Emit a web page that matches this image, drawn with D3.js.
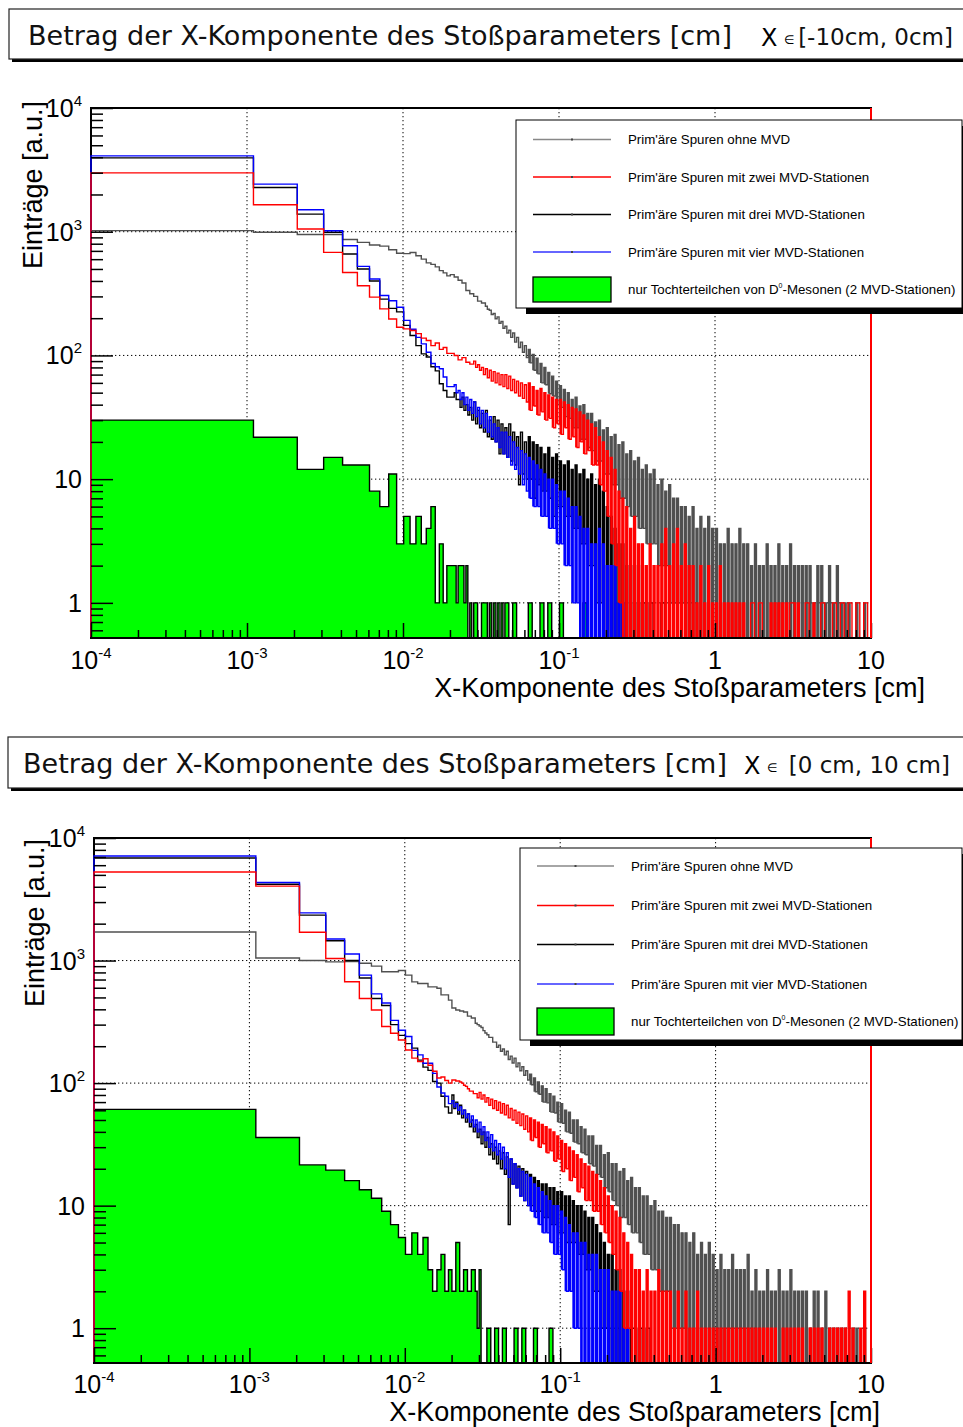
<!DOCTYPE html>
<html>
<head>
<meta charset="utf-8">
<title>Stoßparameter</title>
<script src="https://cdn.jsdelivr.net/npm/d3@7/dist/d3.min.js"></script>
<style>
  body { margin: 0; background: #fff; }
  svg { display: block; }
  text { font-family: "Liberation Sans", Arial, sans-serif; fill: #000; }
</style>
</head>
<body>
<div id="svg"></div>
<script>
var width = 963;
var height = 1427;

// echte Bins (0.001 cm breit) bis 0.0201 cm, danach zusammengefasste Bins
var binKanten = [0.0001, 0.0011, 0.0021, 0.0031, 0.0041, 0.0051, 0.0061, 0.0071, 0.0081, 0.0091, 0.0101,
  0.0111, 0.0121, 0.0131, 0.0141, 0.0151, 0.0161, 0.0171, 0.0181, 0.0191, 0.0201];
var grobStart = 0.0201;
var grobProDekade = 40;
var grobAnzahl = 108;
var grobDicht = 20;   // ab hier liegen die echten Bins unter einem Pixel

var xTicks = [1e-4, 1e-3, 1e-2, 1e-1, 1, 10];
var xTickLabels = [["10", "-4"], ["10", "-3"], ["10", "-2"], ["10", "-1"], ["1", ""], ["10", ""]];
var yTicks = [1, 10, 100, 1000, 10000];
var yTickLabels = [["1", ""], ["10", ""], ["10", "2"], ["10", "3"], ["10", "4"]];

var legendTexte = ["Prim'äre Spuren ohne MVD", "Prim'äre Spuren mit zwei MVD-Stationen",
  "Prim'äre Spuren mit drei MVD-Stationen", "Prim'äre Spuren mit vier MVD-Stationen"];
var legendFarben = ["#888888", "#ff0000", "#000000", "#3333ff"];

// ---------- oberes Bild: X in [-10cm, 0cm] ----------
// n = echte Bins, Ob/Un = obere/untere Kante der Schwankung je Grob-Bin
var oben_grauN = [1020, 990, 950, 950, 866, 820, 780, 765, 715, 670, 665, 680, 640, 600, 560, 545, 520, 485, 465, 440];
var oben_grauOb = [450, 430, 405, 385, 335, 315, 300, 275, 265, 250,
  232, 218, 205, 188, 172, 160, 152, 140, 128, 120,
  112, 102, 95, 86, 80, 73, 68, 62, 57, 53,
  50, 44, 46, 39, 40, 34, 34, 29, 30, 25,
  26, 22, 23, 19, 20, 16, 17, 14, 15, 12,
  13, 11, 12, 9, 10, 8, 9, 7, 7, 6,
  6, 5, 6, 4, 5, 4, 5, 4, 4, 3,
  3, 4, 3, 3, 4, 3, 3, 2, 3, 2,
  2, 3, 2, 2, 3, 2, 2, 3, 2, 2,
  2, 2, 2, 1, 2, 2, 1, 2, 1, 2,
  1, 1, 1, 0, 1, 0, 1, 0];
var oben_grauUn = [450, 430, 405, 385, 335, 315, 300, 275, 265, 236,
  214, 198, 182, 166, 152, 140, 128, 116, 106, 96,
  87, 76, 71, 60, 58, 49, 47, 40, 38, 32,
  31, 26, 26, 21, 21, 18, 17, 14, 14, 11,
  11, 9, 9, 7, 7, 6, 5, 5, 4, 4,
  3, 3, 3, 2, 2, 2, 1, 1, 1, 1];

var oben_rotN = [2990, 1650, 1052, 681, 468, 366, 296, 238, 197, 169, 164, 159, 150, 138, 132, 120, 126, 112, 116, 104];
var oben_rotOb = [104, 100, 92, 96, 88, 85, 90, 84, 80, 78,
  76, 74, 72, 70, 70, 68, 64, 62, 60, 58,
  60, 56, 52, 54, 50, 48, 46, 44, 44, 42,
  40, 38, 37, 35, 33, 30, 28, 26, 22, 20,
  17, 15, 12, 8, 7, 6, 4, 5, 3, 3,
  2, 3, 2, 2, 3, 4, 2, 3, 4, 2,
  3, 2, 2, 1, 2, 1, 2, 1, 1, 2,
  1, 1, 1, 1, 1, 1, 0, 1, 0, 1,
  0, 0, 1, 1, 1, 1, 1, 1, 1, 1,
  0, 1, 0, 1, 0, 1, 0, 0, 1, 0,
  1, 0, 1, 0, 1, 0, 1, 0];
var oben_rotUn = [104, 100, 92, 96, 88, 85, 80, 76, 70, 66,
  62, 60, 58, 56, 54, 52, 50, 47, 45, 42,
  36, 39, 33, 35, 30, 31, 26, 28, 23, 26,
  21, 22, 18, 20, 16, 17, 13, 13, 9, 8,
  5, 3, 2, 1, 0, 0, 0, 0, 0, 0,
  0, 0, 0, 0, 0, 0, 0, 0, 0, 0,
  0, 0, 0, 0, 0, 0, 0, 0, 0, 0,
  0, 0, 0, 0, 0, 0, 0, 1, 0, 1,
  0, 0, 0, 0, 0, 0, 0, 1, 0, 0,
  0, 1, 0, 0, 0, 1, 0, 0, 1, 0,
  1, 0, 1, 0, 1, 0, 1, 0];

var oben_schwarzN = [3950, 2278, 1388, 990, 660, 500, 400, 285, 240, 225, 175, 145, 120, 103, 97, 81, 75, 59, 52, 46];
var oben_schwarzOb = [46, 50, 44, 46, 40, 38, 42, 36, 34, 36,
  30, 32, 30, 28, 26, 28, 24, 22, 24, 20,
  22, 20, 19, 18, 16, 18, 15, 16, 14, 13,
  14, 12, 13, 11, 12, 10, 11, 9, 10, 8,
  6, 5, 4, 3, 3, 2, 2, 1, 2, 1,
  0, 1, 0, 0, 1];
var oben_schwarzUn = [46, 44, 38, 36, 33, 30, 28, 26, 24, 22,
  21, 20, 16, 16, 15, 14, 13, 9, 11, 10,
  10, 7, 9, 8, 8, 7, 5, 6, 6, 5,
  5, 4, 4, 3, 3, 2, 2, 1, 1, 0,
  0, 0, 0, 0, 0, 0, 0, 0, 0, 1,
  0, 1, 0, 0, 1];

var oben_blauN = [4100, 2425, 1505, 1018, 770, 525, 415, 305, 277, 245, 192, 163, 140, 124, 106, 86, 81, 78, 67, 56];
var oben_blauOb = [56, 58, 52, 50, 46, 44, 42, 38, 36, 34,
  32, 28, 26, 24, 24, 22, 20, 18, 17, 16,
  15, 14, 13, 12, 11, 10, 10, 9, 8, 8,
  7, 6, 6, 5, 4, 4, 3, 3, 4, 3,
  2, 2, 2, 1, 1];
var oben_blauUn = [56, 50, 44, 40, 36, 34, 32, 28, 26, 24,
  22, 20, 18, 16, 15, 13, 12, 11, 9, 8,
  7, 6, 6, 5, 5, 4, 4, 3, 3, 2,
  2, 1, 1];

var oben_gruenN = [30, 21.8, 12, 15, 13, 13, 8, 6, 11, 3, 5, 3, 5, 3, 4, 6, 1, 3, 1, 2];
var oben_gruenOb = [2, 2, 2, 2, 2, 1, 1, 0, 1, 1, 1, 1, 1, 1, 1, 0, 1, 0, 0, 0, 1, 0, 0, 1, 0, 1, 0, 0, 1, 0, 0, 0, 0, 0, 1];
var oben_gruenUn = [2, 1, 2, 1, 0, 0, 1, 0, 1, 0, 0, 0, 0, 0, 1, 0, 1, 0, 0, 0, 1, 0, 0, 1, 0, 1, 0, 0, 1, 0, 0, 0, 0, 0, 1];

// ---------- unteres Bild: X in [0 cm, 10 cm] ----------
var unten_grauN = [1710, 1050, 1000, 975, 980, 950, 900, 810, 810, 830, 760, 670, 650, 650, 610, 610, 595, 525, 525, 475];
var unten_grauOb = [410, 395, 388, 380, 352, 340, 308, 292, 268, 248,
  236, 216, 204, 190, 182, 166, 160, 146, 136, 126,
  118, 110, 102, 95, 90, 82, 78, 70, 68, 60,
  58, 50, 50, 44, 42, 37, 37, 31, 31, 26,
  27, 22, 22, 19, 20, 16, 17, 14, 14, 12,
  12, 10, 11, 9, 9, 8, 8, 7, 7, 6,
  6, 5, 6, 4, 5, 4, 5, 4, 3, 4,
  3, 3, 4, 3, 3, 3, 4, 2, 3, 2,
  2, 3, 2, 2, 3, 2, 2, 3, 2, 2,
  2, 2, 1, 2, 2, 1, 2, 1, 1, 1,
  1, 1, 0, 1, 1, 0, 1, 0];
var unten_grauUn = [410, 395, 388, 380, 352, 340, 300, 284, 256, 236,
  216, 196, 182, 170, 156, 146, 136, 126, 116, 106,
  97, 85, 81, 70, 69, 58, 57, 48, 47, 40,
  39, 33, 32, 27, 26, 22, 21, 18, 17, 14,
  13, 11, 10, 8, 8, 7, 6, 6, 5, 4,
  4, 3, 3, 2, 2, 2, 1, 1, 1, 1];

var unten_rotN = [5280, 4050, 1700, 1040, 672, 490, 395, 290, 255, 225, 186, 160, 150, 158, 140, 125, 110, 112, 105, 100];
var unten_rotOb = [106, 104, 102, 96, 90, 86, 82, 84, 80, 76,
  74, 72, 70, 68, 66, 62, 60, 58, 56, 54,
  52, 50, 48, 46, 44, 42, 40, 37, 34, 32,
  30, 28, 26, 24, 22, 21, 19, 18, 16, 14,
  12, 10, 9, 8, 6, 5, 4, 3, 3, 2,
  3, 2, 2, 3, 2, 2, 2, 1, 2, 1,
  2, 1, 1, 2, 1, 1, 1, 1, 1, 1,
  1, 1, 1, 1, 1, 1, 1, 1, 1, 1,
  1, 1, 1, 1, 0, 1, 1, 1, 1, 1,
  1, 0, 1, 1, 1, 1, 0, 1, 1, 1,
  1, 1, 2, 1, 0, 1, 2, 0];
var unten_rotUn = [106, 104, 100, 94, 86, 82, 76, 74, 70, 66,
  62, 60, 57, 55, 52, 50, 47, 45, 42, 40,
  34, 36, 30, 32, 27, 28, 23, 24, 19, 20,
  16, 17, 13, 14, 11, 11, 9, 9, 7, 6,
  5, 4, 3, 2, 1, 1];

var unten_schwarzN = [6870, 4190, 2350, 1450, 1000, 720, 490, 430, 300, 245, 210, 193, 154, 135, 127, 103, 100, 78, 64, 57];
var unten_schwarzOb = [80, 70, 66, 60, 56, 50, 46, 42, 40, 36,
  32, 30, 28, 27, 25, 24, 22, 21, 20, 19,
  18, 17, 16, 15, 15, 14, 14, 13, 13, 12,
  12, 11, 10, 10, 9, 8, 8, 7, 6, 5,
  4, 4, 3, 3, 2, 2, 1, 1, 1, 0, 1];
var unten_schwarzUn = [62, 56, 52, 48, 44, 40, 36, 32, 30, 26,
  24, 22, 20, 18, 7, 15, 14, 12, 11, 10,
  10, 9, 9, 8, 8, 7, 7, 6, 6, 5,
  5, 5, 4, 4, 3, 3, 2, 2, 1, 1,
  0, 0, 0, 0, 0, 0, 1, 0, 1, 0, 1];

var unten_blauN = [7130, 4340, 2450, 1500, 1130, 760, 535, 450, 325, 270, 240, 185, 170, 145, 145, 120, 93, 83, 78, 68];
var unten_blauOb = [72, 68, 64, 60, 56, 54, 50, 48, 44, 40,
  38, 34, 32, 30, 27, 24, 22, 20, 19, 18,
  17, 15, 14, 13, 12, 11, 10, 10, 9, 8,
  7, 6, 6, 5, 5, 4, 4, 4, 3, 3,
  3, 2, 2, 2, 1, 1];
var unten_blauUn = [64, 60, 56, 52, 48, 44, 40, 38, 34, 30,
  28, 26, 24, 20, 17, 15, 14, 12, 11, 10,
  9, 8, 7, 6, 6, 5, 4, 4, 3, 2,
  2, 1, 1];

var unten_gruenN = [61, 36, 21.5, 19.5, 16, 13.5, 11.5, 9, 7, 5.5, 4, 6, 4, 5.5, 3, 2, 3, 4, 2, 3];
var unten_gruenOb = [2, 5, 2, 3, 2, 3, 2, 3, 0, 1, 0, 1, 0, 1, 0, 0, 1, 0, 1, 0, 0, 1, 0, 0, 0, 1];
var unten_gruenUn = [2, 5, 2, 3, 2, 3, 1, 0, 0, 1, 0, 1, 0, 1, 0, 0, 1, 0, 1, 0, 0, 1, 0, 0, 0, 1];

var grobKanten = d3.range(grobAnzahl + 1).map(function(k) { return grobStart * Math.pow(10, k / grobProDekade); });

function baueBins(n, ob, un)
{
  var bins = [];
  n.forEach(function(v, i) { bins.push({x0: binKanten[i], x1: binKanten[i + 1], ob: v, un: v, dicht: false}); });
  ob.forEach(function(v, k) {
    bins.push({x0: grobKanten[k], x1: grobKanten[k + 1], ob: v, un: un[k] === undefined ? 0 : un[k], dicht: k >= grobDicht});
  });
  return bins;
}

// Stufenlinie: pro Grob-Bin erst obere, dann untere Kante; lo = Unterkante der Füllung
function punkte(bins)
{
  var pts = [{x: bins[0].x0, v: 0, lo: 0}];
  bins.forEach(function(b) {
    pts.push({x: b.x0, v: b.ob, lo: b.dicht ? b.un : b.ob});
    if (b.un !== b.ob) pts.push({x: Math.sqrt(b.x0 * b.x1), v: b.un, lo: b.un});
  });
  pts.push({x: bins[bins.length - 1].x1, v: 0, lo: 0});
  return pts;
}

var panels = [
  {
    id: "oben", L: 91, R: 871, T: 108, B: 638,
    titel: {x: 9, y: 9, h: 50, base: 45, tx: 28, xx: 761, ex: 784, bx: 953, bereich: "[-10cm, 0cm]"},
    xLabelY: 669, xTitel: {x: 925, y: 697}, yTitel: {x: 42, y: 101},
    legende: {x: 516, y: 120, w: 447, h: 188, zeilen: [139.5, 177, 214.5, 252], box: [277, 25], lx: [533, 611], tx: 628},
    reihen: [
      {n: oben_grauN, ob: oben_grauOb, un: oben_grauUn, farbe: "#505050"},
      {n: oben_schwarzN, ob: oben_schwarzOb, un: oben_schwarzUn, farbe: "#000000"},
      {n: oben_blauN, ob: oben_blauOb, un: oben_blauUn, farbe: "#0000ff"},
      {n: oben_rotN, ob: oben_rotOb, un: oben_rotUn, farbe: "#ff0000"}
    ],
    gruen: {n: oben_gruenN, ob: oben_gruenOb, un: oben_gruenUn}
  },
  {
    id: "unten", L: 94, R: 871, T: 838, B: 1363,
    titel: {x: 8, y: 737, h: 51, base: 773, tx: 23, xx: 744, ex: 767, bx: 950, bereich: "[0 cm, 10 cm]"},
    xLabelY: 1393, xTitel: {x: 880, y: 1421}, yTitel: {x: 44, y: 839},
    legende: {x: 520, y: 848, w: 443, h: 192, zeilen: [866, 905.5, 944.5, 984], box: [1008, 27], lx: [537, 614], tx: 631},
    reihen: [
      {n: unten_grauN, ob: unten_grauOb, un: unten_grauUn, farbe: "#505050"},
      {n: unten_schwarzN, ob: unten_schwarzOb, un: unten_schwarzUn, farbe: "#000000"},
      {n: unten_blauN, ob: unten_blauOb, un: unten_blauUn, farbe: "#0000ff"},
      {n: unten_rotN, ob: unten_rotOb, un: unten_rotUn, farbe: "#ff0000"}
    ],
    gruen: {n: unten_gruenN, ob: unten_gruenOb, un: unten_gruenUn}
  }
];

var svg = d3.select("#svg").append("svg")
  .attr("width", width)
  .attr("height", height);

panels.forEach(function(p) { zeichnePanel(p); });

function zeichnePanel(p)
{
  var x = d3.scaleLog().domain([1e-4, 10]).range([p.L, p.R]);
  var y = d3.scaleLog().domain([0.52, 1e4]).range([p.B, p.T]);
  function yv(v) { return v > 0 ? y(v) : p.B + 4; }

  // Titelbox
  var t = p.titel;
  svg.append("rect").attr("x", t.x + 3).attr("y", t.y + 3).attr("width", 1000).attr("height", t.h).attr("fill", "#000");
  svg.append("rect").attr("x", t.x).attr("y", t.y).attr("width", 1000).attr("height", t.h)
    .attr("fill", "#fff").attr("stroke", "#222").attr("stroke-width", 1.2);
  svg.append("text").attr("x", t.tx).attr("y", t.base)
    .style("font-family", "DejaVu Sans").style("font-size", "27px").style("fill", "#111")
    .text("Betrag der X-Komponente des Stoßparameters [cm]");
  svg.append("text").attr("x", t.xx).attr("y", t.base + 1)
    .style("font-family", "DejaVu Sans").style("font-size", "24px").text("X");
  svg.append("text").attr("x", t.ex).attr("y", t.base - 1)
    .style("font-family", "DejaVu Sans").style("font-size", "12px").text("∈");
  svg.append("text").attr("x", t.bx).attr("y", t.base).attr("text-anchor", "end")
    .style("font-family", "DejaVu Sans").style("font-size", "23px").style("fill", "#111").text(t.bereich);

  // Gitter
  var gitter = svg.append("g")
    .attr("stroke", "#000").attr("stroke-width", 1).attr("stroke-dasharray", "1.3,2.7");
  gitter.selectAll(".gx").data(xTicks.slice(1, -1)).enter().append("line")
    .attr("x1", function(d) { return x(d); }).attr("x2", function(d) { return x(d); })
    .attr("y1", p.T).attr("y2", p.B);
  gitter.selectAll(".gy").data(yTicks.slice(0, -1)).enter().append("line")
    .attr("x1", p.L).attr("x2", p.R)
    .attr("y1", function(d) { return y(d); }).attr("y2", function(d) { return y(d); });

  // Rahmen
  svg.append("rect").attr("x", p.L).attr("y", p.T).attr("width", p.R - p.L).attr("height", p.B - p.T)
    .attr("fill", "none").attr("stroke", "#000").attr("stroke-width", 2);

  svg.append("clipPath").attr("id", "clip-" + p.id)
    .append("rect").attr("x", p.L - 1.5).attr("y", p.T).attr("width", p.R - p.L + 3).attr("height", p.B - p.T - 1);
  var hist = svg.append("g").attr("clip-path", "url(#clip-" + p.id + ")");

  var linie = d3.line().curve(d3.curveStepAfter)
    .x(function(d) { return x(d.x); })
    .y(function(d) { return yv(d.v); });
  var dicht = d3.area().curve(d3.curveStepAfter)
    .x(function(d) { return x(d.x); })
    .y0(function(d) { return yv(d.lo); })
    .y1(function(d) { return yv(d.v); });
  var flaeche = d3.area().curve(d3.curveStepAfter)
    .x(function(d) { return x(d.x); })
    .y0(p.B + 4)
    .y1(function(d) { return yv(d.v); });

  // D0-Töchter: grün gefüllt mit schwarzem Rand
  var gp = punkte(baueBins(p.gruen.n, p.gruen.ob, p.gruen.un));
  hist.append("path").datum(gp).attr("d", flaeche).attr("fill", "#00ff00");
  hist.append("path").datum(gp).attr("d", linie)
    .attr("fill", "none").attr("stroke", "#000").attr("stroke-width", 1.4);

  p.reihen.forEach(function(r) {
    var pts = punkte(baueBins(r.n, r.ob, r.un));
    hist.append("path").datum(pts).attr("d", dicht).attr("fill", r.farbe);
    hist.append("path").datum(pts).attr("d", linie)
      .attr("fill", "none")
      .attr("stroke", r.farbe)
      .attr("stroke-width", 1.4);
  });

  // Achsen (Striche nach innen)
  var minorX = x.ticks().filter(function(v) { return xTicks.indexOf(v) < 0; });
  var minorY = y.ticks().filter(function(v) { return yTicks.indexOf(v) < 0; });

  function stil(g)
  {
    g.select(".domain").remove();
    g.selectAll("line").attr("stroke", "#000").attr("stroke-width", 1.5);
  }
  svg.append("g").attr("transform", "translate(0," + p.B + ")")
    .call(d3.axisBottom(x).tickValues(xTicks).tickSize(-15).tickSizeOuter(0).tickFormat("")).call(stil);
  svg.append("g").attr("transform", "translate(0," + p.B + ")")
    .call(d3.axisBottom(x).tickValues(minorX).tickSize(-8).tickSizeOuter(0).tickFormat("")).call(stil);
  svg.append("g").attr("transform", "translate(" + p.L + ",0)")
    .call(d3.axisLeft(y).tickValues(yTicks).tickSize(-22).tickSizeOuter(0).tickFormat("")).call(stil);
  svg.append("g").attr("transform", "translate(" + p.L + ",0)")
    .call(d3.axisLeft(y).tickValues(minorY).tickSize(-12).tickSizeOuter(0).tickFormat("")).call(stil);

  // rechter Rand rot
  svg.append("line").attr("x1", p.R).attr("x2", p.R).attr("y1", p.T).attr("y2", p.B)
    .attr("stroke", "#ff0000").attr("stroke-width", 2);

  // Beschriftung
  xTicks.forEach(function(v, i) {
    var tx = svg.append("text").attr("x", x(v)).attr("y", p.xLabelY)
      .attr("text-anchor", "middle").style("font-size", "25px");
    tx.append("tspan").text(xTickLabels[i][0]);
    if (xTickLabels[i][1]) tx.append("tspan").attr("dy", -11).style("font-size", "15px").text(xTickLabels[i][1]);
  });
  yTicks.forEach(function(v, i) {
    var ty = svg.append("text").attr("x", p.L - 9).attr("y", y(v) + 9)
      .attr("text-anchor", "end").style("font-size", "25px");
    ty.append("tspan").text(yTickLabels[i][0]);
    if (yTickLabels[i][1]) ty.append("tspan").attr("dy", -11).style("font-size", "15px").text(yTickLabels[i][1]);
  });

  svg.append("text").attr("x", p.xTitel.x).attr("y", p.xTitel.y).attr("text-anchor", "end")
    .style("font-size", "27px").text("X-Komponente des Stoßparameters [cm]");
  svg.append("text").attr("transform", "translate(" + p.yTitel.x + "," + p.yTitel.y + ") rotate(-90)")
    .attr("text-anchor", "end").style("font-size", "27px").text("Einträge [a.u.]");

  // Legende
  var lg = p.legende;
  svg.append("rect").attr("x", lg.x + 10).attr("y", lg.y + 6).attr("width", lg.w).attr("height", lg.h).attr("fill", "#000");
  svg.append("rect").attr("x", lg.x).attr("y", lg.y).attr("width", lg.w - 1).attr("height", lg.h)
    .attr("fill", "#fff").attr("stroke", "#000").attr("stroke-width", 1);
  lg.zeilen.forEach(function(zy, i) {
    svg.append("line").attr("x1", lg.lx[0]).attr("x2", lg.lx[1]).attr("y1", zy).attr("y2", zy)
      .attr("stroke", legendFarben[i]).attr("stroke-width", 1.3);
    svg.append("rect").attr("x", (lg.lx[0] + lg.lx[1]) / 2 - 1).attr("y", zy - 1).attr("width", 2).attr("height", 2)
      .attr("fill", "#444");
    svg.append("text").attr("x", lg.tx).attr("y", zy + 4.5).style("font-size", "13.3px").text(legendTexte[i]);
  });
  svg.append("rect").attr("x", lg.lx[0]).attr("y", lg.box[0]).attr("width", lg.lx[1] - lg.lx[0]).attr("height", lg.box[1])
    .attr("fill", "#00ff00").attr("stroke", "#000").attr("stroke-width", 1.3);
  var gt = svg.append("text").attr("x", lg.tx).attr("y", lg.box[0] + lg.box[1] / 2 + 4.5).style("font-size", "13.3px");
  gt.append("tspan").text("nur Tochterteilchen von D");
  gt.append("tspan").attr("dy", -6).style("font-size", "7px").text("0");
  gt.append("tspan").attr("dy", 6).text("-Mesonen (2 MVD-Stationen)");
}
</script>
</body>
</html>
